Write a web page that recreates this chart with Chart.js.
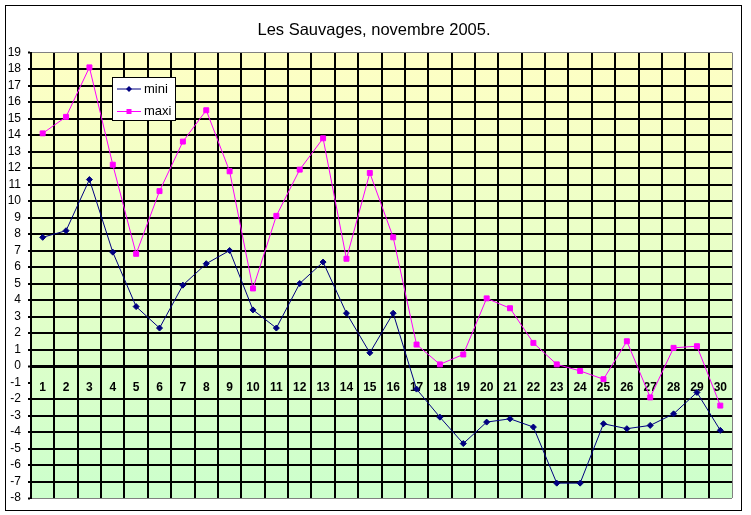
<!DOCTYPE html>
<html>
<head>
<meta charset="utf-8">
<title>Les Sauvages, novembre 2005.</title>
<script src="https://cdn.jsdelivr.net/npm/chart.js@4/dist/chart.umd.min.js"></script>
<style>
  html, body { margin: 0; padding: 0; background: #fff; }
  canvas { display: block; }
</style>
</head>
<body>
<canvas id="chart" width="751" height="515"></canvas>
<script>
// Days of the month (category axis)
var days = ['1', '2', '3', '4', '5', '6', '7', '8', '9', '10',
	'11', '12', '13', '14', '15', '16', '17', '18', '19', '20',
	'21', '22', '23', '24', '25', '26', '27', '28', '29', '30'];

// Daily minimum temperature
var mini = [7.8, 8.2, 11.3, 6.9, 3.6, 2.3, 4.9, 6.2, 7.0, 3.4,
	2.3, 5.0, 6.3, 3.2, 0.8, 3.2, -1.4, -3.1, -4.7, -3.4,
	-3.2, -3.7, -7.1, -7.1, -3.5, -3.8, -3.6, -2.9, -1.6, -3.9];

// Daily maximum temperature
var maxi = [14.1, 15.1, 18.1, 12.2, 6.8, 10.6, 13.6, 15.5, 11.8, 4.7,
	9.1, 11.9, 13.8, 6.5, 11.7, 7.8, 1.3, 0.1, 0.7, 4.1,
	3.5, 1.4, 0.1, -0.3, -0.8, 1.5, -1.9, 1.1, 1.2, -2.4];

// Value axis range
var yMin = -8;
var yMax = 19;
var yStep = 1;

var titleText = 'Les Sauvages, novembre 2005.';

var FONT = 'Arial, "Liberation Sans", sans-serif';
var NAVY = '#000080';
var MAGENTA = '#FF00FF';
var FRAME_GRAY = '#808080';

/**
 * Yellow-to-green gradient behind the plot, white page behind that.
 */
var plotBackground = {
	id: 'plotBackground',
	beforeDraw: function ( chart ) {
		var a = chart.chartArea;
		var ctx = chart.ctx;
		var g = ctx.createLinearGradient( 0, a.top, 0, a.bottom );
		g.addColorStop( 0, '#FFFFC4' );
		g.addColorStop( 1, '#CCFFCC' );
		ctx.save();
		ctx.fillStyle = '#ffffff';
		ctx.fillRect( 0, 0, chart.width, chart.height );
		ctx.fillStyle = g;
		ctx.fillRect( a.left, a.top, a.right - a.left, a.bottom - a.top );
		ctx.restore();
	}
};

/**
 * Excel-like legend box inside the plot, plus the outer chart frame.
 */
var boxLegend = {
	id: 'boxLegend',
	afterDraw: function ( chart ) {
		var ctx = chart.ctx;
		var bx = 112.5, by = 77.5, bw = 63, bh = 43;

		ctx.save();
		ctx.fillStyle = '#ffffff';
		ctx.fillRect( bx, by, bw, bh );
		ctx.strokeStyle = '#000000';
		ctx.lineWidth = 1;
		ctx.strokeRect( bx, by, bw, bh );

		chart.data.datasets.forEach( function ( ds, i ) {
			var y = 89 + i * 22.5;
			ctx.strokeStyle = ds.borderColor;
			ctx.lineWidth = 1;
			ctx.beginPath();
			ctx.moveTo( 117, y );
			ctx.lineTo( 141, y );
			ctx.stroke();

			ctx.fillStyle = ds.borderColor;
			ctx.beginPath();
			if ( ds.pointStyle === 'rect' ) {
				ctx.rect( 129 - 2.5, y - 2.5, 5, 5 );
			} else {
				ctx.moveTo( 129, y - 3 );
				ctx.lineTo( 132, y );
				ctx.lineTo( 129, y + 3 );
				ctx.lineTo( 126, y );
				ctx.closePath();
			}
			ctx.fill();

			ctx.fillStyle = '#000000';
			ctx.font = '13px ' + FONT;
			ctx.textAlign = 'left';
			ctx.textBaseline = 'middle';
			ctx.fillText( ds.label, 144, y );
		} );

		// outer frame of the chart object
		ctx.strokeStyle = '#000000';
		ctx.lineWidth = 1;
		ctx.strokeRect( 5.5, 5.5, 736, 505 );
		ctx.restore();
	}
};

new Chart( document.getElementById( 'chart' ), {
	type: 'line',
	data: {
		labels: days,
		datasets: [
			{
				label: 'mini',
				data: mini,
				borderColor: NAVY,
				backgroundColor: NAVY,
				borderWidth: 1,
				pointStyle: 'rectRot',
				pointRadius: 3,
				pointBorderWidth: 1,
				tension: 0
			},
			{
				label: 'maxi',
				data: maxi,
				borderColor: MAGENTA,
				backgroundColor: MAGENTA,
				borderWidth: 1,
				pointStyle: 'rect',
				pointRadius: 3.5,
				pointBorderWidth: 1,
				tension: 0
			}
		]
	},
	options: {
		responsive: false,
		animation: false,
		events: [],
		layout: {
			padding: { left: 8, right: 11, top: 0, bottom: 17 }
		},
		plugins: {
			legend: { display: false },
			tooltip: { enabled: false },
			title: {
				display: true,
				text: titleText,
				color: '#000000',
				font: { family: FONT, size: 16.5, weight: 'normal' },
				padding: { top: 21, bottom: 11.7 }
			}
		},
		scales: {
			x: {
				type: 'category',
				position: { y: 0 },
				offset: true,
				grid: {
					offset: true,
					color: function ( ctx ) {
						return ctx.index === undefined ? FRAME_GRAY : '#000000';
					},
					lineWidth: function ( ctx ) {
						return ctx.index === undefined ? 1 : 2;
					},
					tickLength: 3
				},
				border: { display: true, color: '#000000', width: 3 },
				ticks: {
					autoSkip: false,
					maxRotation: 0,
					padding: 11,
					color: '#000000',
					font: { family: FONT, size: 12, weight: 'bold' }
				},
				afterFit: function ( scale ) {
					scale.paddingLeft = 0;
					scale.paddingRight = 0;
				}
			},
			y: {
				type: 'linear',
				position: 'left',
				min: yMin,
				max: yMax,
				ticks: {
					stepSize: yStep,
					maxTicksLimit: 40,
					autoSkip: false,
					padding: 7,
					color: '#000000',
					font: { family: FONT, size: 12 }
				},
				grid: {
					color: function ( ctx ) {
						var v = ctx.tick ? ctx.tick.value : null;
						if ( v === -1 ) return 'rgba(0,0,0,0)'; // hidden behind the day labels
						return ( v === yMax || v === yMin ) ? FRAME_GRAY : '#000000';
					},
					lineWidth: function ( ctx ) {
						var v = ctx.tick ? ctx.tick.value : null;
						if ( v === yMax || v === yMin ) return 1;
						return v === 0 ? 3 : 2;
					},
					tickColor: '#000000',
					tickWidth: 2,
					tickLength: 3
				},
				border: { display: true, color: '#000000', width: 2 },
				afterFit: function ( scale ) {
					scale.width = 23;
					scale.paddingTop = 0;
					scale.paddingBottom = 0;
				}
			},
			yPad: {
				type: 'linear',
				position: 'right',
				display: true,
				ticks: { display: false },
				grid: { display: false, drawOnChartArea: false },
				border: { display: false },
				afterFit: function ( scale ) {
					scale.width = 8;
				}
			}
		}
	},
	plugins: [ plotBackground, boxLegend ]
} );
</script>
</body>
</html>
